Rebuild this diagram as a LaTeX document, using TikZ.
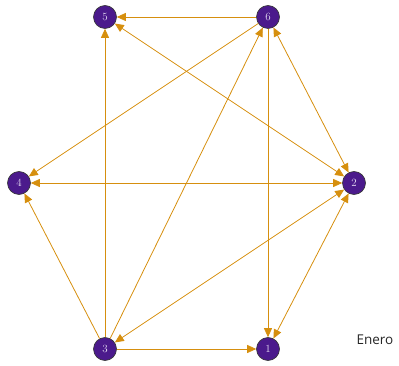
\documentclass[tikz,border=0pt]{standalone}
\usepackage{fontspec}
\newfontfamily\labfont{Open Sans}
\usetikzlibrary{arrows.meta}
\definecolor{edgeor}{HTML}{D68F0E}
\definecolor{nodepur}{HTML}{4B1A8C}
\definecolor{numcol}{HTML}{E8E0F4}
\tikzset{
  vert/.style={circle, draw=black!80, line width=0.6pt, fill=nodepur, minimum size=23pt, inner sep=0pt, text=numcol, font=\fontsize{11}{13}\selectfont},
  edge/.style={draw=edgeor, line width=0.8pt, -{Triangle[length=9pt,width=8pt]}},
  bedge/.style={draw=edgeor, line width=0.8pt, {Triangle[length=9pt,width=8pt]}-{Triangle[length=9pt,width=8pt]}}
}
\begin{document}
\begin{tikzpicture}[x=1pt,y=-1pt]
\useasboundingbox (0,0) rectangle (399,366);
\node[vert] (n5) at (105,17) {5};
\node[vert] (n6) at (268,17) {6};
\node[vert] (n4) at (19,183) {4};
\node[vert] (n2) at (354,183) {2};
\node[vert] (n3) at (105,349) {3};
\node[vert] (n1) at (268,349) {1};
\node[font=\labfont\fontsize{13.5}{15}\selectfont, text=black!85] (lab) at (375,340) {Enero};
\draw[edge] (n6) -- (n5);
\draw[edge] (n3) -- (n5);
\draw[bedge] (n5) -- (n2);
\draw[bedge] (n6) -- (n2);
\draw[bedge] (n4) -- (n2);
\draw[bedge] (n3) -- (n2);
\draw[bedge] (n1) -- (n2);
\draw[edge] (n6) -- (n4);
\draw[edge] (n3) -- (n4);
\draw[edge] (n3) -- (n6);
\draw[edge] (n6) -- (n1);
\draw[edge] (n3) -- (n1);
\end{tikzpicture}
\end{document}
